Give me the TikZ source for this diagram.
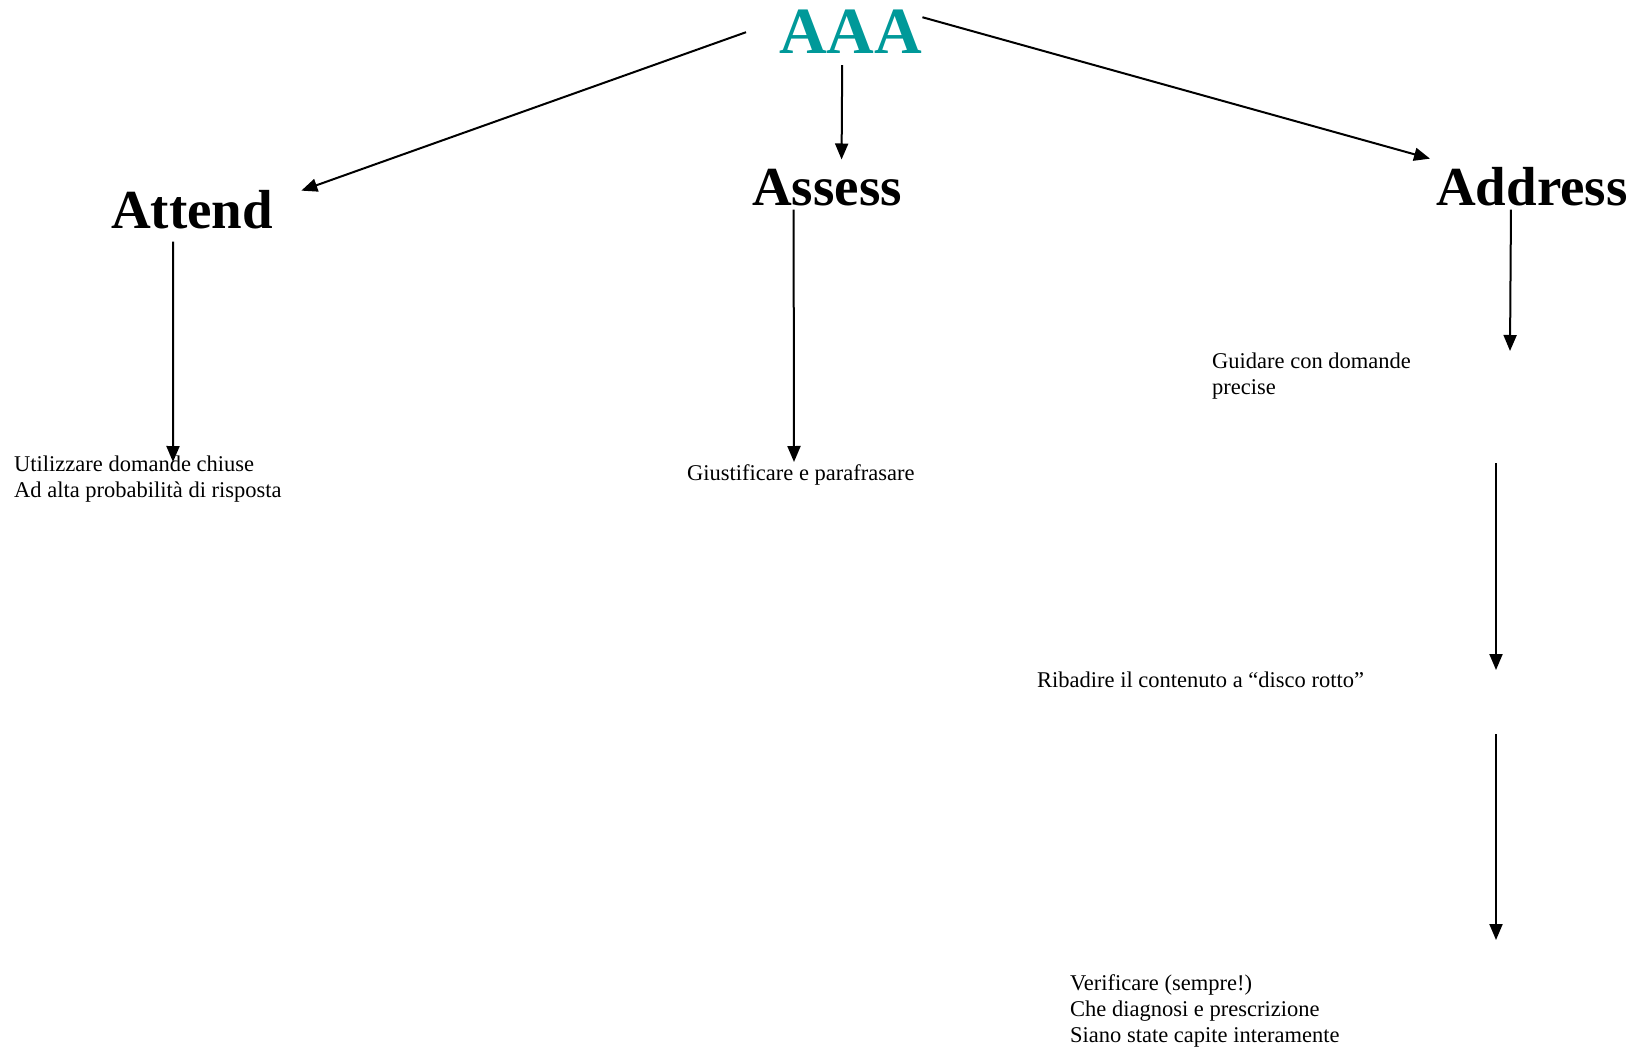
\documentclass[tikz,border=0pt]{standalone}
\usepackage{fontspec}
\setmainfont{Liberation Serif}
\usepackage{tikz}
\usetikzlibrary{arrows.meta}
\definecolor{aaateal}{RGB}{0,153,153}

\begin{document}
\begin{tikzpicture}[x=1pt,y=-1pt]
	\useasboundingbox (0,0) rectangle (1640,1051);
	\begin{scope}[every node/.style={inner sep=0pt,anchor=base west,font=\bfseries\fontsize{55}{60}\selectfont}]
		\node[text=aaateal,font=\bfseries\fontsize{66}{70}\selectfont] (aaa) at (779,54) {AAA};
		\node (attend) at (111,229) {Attend};
		\node (assess) at (752,206) {Assess};
		\node (address) at (1436,206) {Address};
	\end{scope}

	\begin{scope}[every node/.style={inner sep=0pt,anchor=base west,font=\fontsize{22.5}{26}\selectfont}]
		\node (utilizzare) at (14,471) {\begin{tabular}[t]{@{}l@{}}Utilizzare domande chiuse\\Ad alta probabilità di risposta\end{tabular}};
		\node (giustificare) at (687,480) {Giustificare e parafrasare};
		\node (guidare) at (1212,368) {\begin{tabular}[t]{@{}l@{}}Guidare con domande\\precise\end{tabular}};
		\node (ribadire) at (1037,687) {Ribadire il contenuto a “disco rotto”};
		\node (verificare) at (1070,990) {\begin{tabular}[t]{@{}l@{}}Verificare (sempre!)\\Che diagnosi e prescrizione\\Siano state capite interamente\end{tabular}};
	\end{scope}

	% free ends of the arrows under Address
	\coordinate (g1) at (1510,351);
	\coordinate (r1) at (1496,463);
	\coordinate (r2) at (1496,670);
	\coordinate (r3) at (1496,734);
	\coordinate (r4) at (1496,940);

	\begin{scope}[>={Triangle[length=16pt,width=13pt]},
	              every path/.style={line width=2pt}]
		\draw[->] ([xshift=-33pt]aaa.west) -- ([xshift=28pt]attend.north east);
		\draw[->] ([xshift=-8.5pt,yshift=-11pt]aaa.south) -- ([xshift=14.5pt,yshift=10pt]assess.north);
		\draw[->] ([yshift=-7pt]aaa.north east) -- ([xshift=-6pt,yshift=9pt]address.north west);
		\draw[->] ([xshift=-19pt,yshift=-12pt]attend.south) -- ([xshift=159pt,yshift=9pt]utilizzare.base west);
		\draw[->] ([xshift=-33.5pt,yshift=-3pt]assess.south) -- ([xshift=107pt,yshift=18pt]giustificare.base west);
		\draw[->] ([xshift=-21pt,yshift=-3pt]address.south) -- (g1);
		\draw[->] (r1) -- (r2);
		\draw[->] (r3) -- (r4);
	\end{scope}
\end{tikzpicture}
\end{document}
